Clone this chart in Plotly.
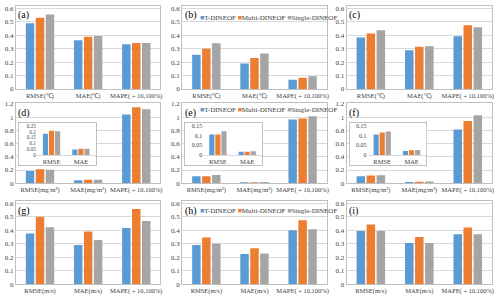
import plotly.graph_objects as go

# ---------------- data ----------------
methods = ["T-DINEOF", "Multi-DINEOF", "Single-DINEOF"]
colors = ["#5b9bd5", "#ed7d31", "#a5a5a5"]

cats_temp = ["RMSE(℃)", "MAE(℃)", "MAPE( ÷ 10,100%)"]
cats_chl = ["RMSE(mg/m³)", "MAE(mg/m³)", "MAPE( ÷ 10,100%)"]
cats_wind = ["RMSE(m/s)", "MAE(m/s)", "MAPE( ÷ 10,100%)"]
inset_cats = ["RMSE", "MAE"]

a_t = [0.490, 0.363, 0.333]
a_m = [0.530, 0.388, 0.343]
a_s = [0.555, 0.395, 0.343]

b_t = [0.254, 0.190, 0.069]
b_m = [0.300, 0.230, 0.084]
b_s = [0.340, 0.264, 0.094]

c_t = [0.383, 0.289, 0.393]
c_m = [0.412, 0.314, 0.474]
c_s = [0.437, 0.318, 0.459]

d_t = [0.185, 0.047, 1.042]
d_m = [0.210, 0.053, 1.151]
d_s = [0.205, 0.053, 1.120]

e_t = [0.106, 0.017, 0.963]
e_m = [0.106, 0.017, 0.978]
e_s = [0.123, 0.019, 1.012]

f_t = [0.107, 0.020, 0.814]
f_m = [0.117, 0.024, 0.943]
f_s = [0.122, 0.026, 1.030]

g_t = [0.376, 0.291, 0.417]
g_m = [0.500, 0.391, 0.558]
g_s = [0.422, 0.328, 0.468]

h_t = [0.292, 0.224, 0.400]
h_m = [0.347, 0.267, 0.475]
h_s = [0.300, 0.229, 0.407]

i_t = [0.395, 0.305, 0.370]
i_m = [0.443, 0.350, 0.420]
i_s = [0.395, 0.305, 0.370]

panel_labels = ["(a)", "(b)", "(c)", "(d)", "(e)", "(f)", "(g)", "(h)", "(i)"]
row_cats = [cats_temp, cats_chl, cats_wind]
panels = [
    (a_t, a_m, a_s), (b_t, b_m, b_s), (c_t, c_m, c_s),
    (d_t, d_m, d_s), (e_t, e_m, e_s), (f_t, f_m, f_s),
    (g_t, g_m, g_s), (h_t, h_m, h_s), (i_t, i_m, i_s),
]
inset_tops = [0.25, 0.15, 0.15]

# ---------------- layout helpers ----------------
W, H = 500, 304
FONT = "Liberation Serif"
FRAME = "#bfbfbf"
GRID = "#d9d9d9"
TXT = "#404040"


def fx(p):
    return p / W


def fy(p):
    return 1 - p / H


col_px = [(16, 161), (183, 328), (348, 494)]
row_px = [(3, 88), (102.5, 184.5), (203, 288)]
row_top = [0.618, 1.212, 0.614]
row_dtick = [0.1, 0.2, 0.1]
legend_y = [15, 110, 213]
inset_font = [5.2, 6, 6]


def ax(kind, n):
    return f"{kind}axis" if n == 1 else f"{kind}axis{n}"


def ref(kind, n):
    return kind if n == 1 else f"{kind}{n}"


fig = go.Figure()
lay = {}
annotations = []

for k, (tv, mv, sv) in enumerate(panels):
    r, c = divmod(k, 3)
    n = k + 1
    L, R = col_px[c]
    T, B = row_px[r]
    cats = row_cats[r]
    for vals, name, col in zip((tv, mv, sv), methods, colors):
        fig.add_trace(go.Bar(x=cats, y=vals, name=name, marker_color=col,
                             marker_line_width=0, showlegend=False,
                             xaxis=ref("x", n), yaxis=ref("y", n)))
    lay[ax("x", n)] = dict(domain=[fx(L), fx(R)], anchor=ref("y", n), type="category",
                           showline=True, mirror=True, linecolor=FRAME, linewidth=1,
                           ticks="", showgrid=False, zeroline=False, tickangle=0,
                           tickfont=dict(family=FONT, size=6.5, color=TXT))
    lay[ax("y", n)] = dict(domain=[fy(B), fy(T)], anchor=ref("x", n),
                           range=[0, row_top[r]], tick0=0, dtick=row_dtick[r],
                           showline=True, mirror=True, linecolor=FRAME, linewidth=1,
                           showgrid=True, gridcolor=GRID, gridwidth=1, zeroline=False,
                           ticks="", tickfont=dict(family=FONT, size=7, color=TXT))
    annotations.append(dict(text=panel_labels[k], xref="paper", yref="paper",
                            x=fx(L + 0.5), y=fy(T + 1.5), xanchor="left", yanchor="top",
                            showarrow=False, font=dict(family=FONT, size=10, color="#000000")))
    if c == 1:
        annotations.append(dict(
            text=(f'<span style="color:{colors[0]}">■</span>{methods[0]} '
                  f'<span style="color:{colors[1]}">■</span>{methods[1]} '
                  f'<span style="color:{colors[2]}">■</span>{methods[2]}'),
            xref="paper", yref="paper", x=fx(L + 16), y=fy(legend_y[r]),
            xanchor="left", yanchor="middle", showarrow=False,
            font=dict(family=FONT, size=7, color=TXT)))

# ---------------- insets in row 2 ----------------
for c in range(3):
    L, R = col_px[c]
    k = 3 + c
    tv, mv, sv = panels[k]
    nb = 10 + c  # white box behind inset
    ni = 13 + c  # inset plot
    fig.add_trace(go.Scatter(x=[], y=[], showlegend=False,
                             xaxis=ref("x", nb), yaxis=ref("y", nb)))
    lay[ax("x", nb)] = dict(domain=[fx(L + 3), fx(L + 80)], anchor=ref("y", nb),
                            range=[0, 1], showline=True, mirror=True, linecolor=FRAME,
                            linewidth=1, showgrid=False, zeroline=False,
                            showticklabels=False, ticks="")
    lay[ax("y", nb)] = dict(domain=[fy(166), fy(123)], anchor=ref("x", nb),
                            range=[0, 1], showline=True, mirror=True, linecolor=FRAME,
                            linewidth=1, showgrid=False, zeroline=False,
                            showticklabels=False, ticks="")
    for vals, name, col in zip((tv, mv, sv), methods, colors):
        fig.add_trace(go.Bar(x=inset_cats, y=vals[:2], name=name, marker_color=col,
                             marker_line_width=0, showlegend=False,
                             xaxis=ref("x", ni), yaxis=ref("y", ni)))
    lay[ax("x", ni)] = dict(domain=[fx(L + 21), fx(L + 80)], anchor=ref("y", ni),
                            type="category", showline=True, linecolor=GRID, linewidth=1,
                            ticks="", showgrid=False, zeroline=False, tickangle=0,
                            tickfont=dict(family=FONT, size=6.5, color=TXT))
    top = inset_tops[c]
    lay[ax("y", ni)] = dict(domain=[fy(155.5), fy(126)], anchor=ref("x", ni),
                            range=[0, top * 1.002], tick0=0, dtick=0.05,
                            showline=False, showgrid=False, zeroline=False, ticks="",
                            tickfont=dict(family=FONT, size=inset_font[c], color=TXT))

fig.update_layout(
    width=W, height=H, margin=dict(l=0, r=0, t=0, b=0),
    paper_bgcolor="white", plot_bgcolor="white",
    barmode="group", bargap=0.38, bargroupgap=0.15,
    showlegend=False, annotations=annotations,
    font=dict(family=FONT, size=7, color=TXT),
    **lay,
)

fig.write_html("out.html")
